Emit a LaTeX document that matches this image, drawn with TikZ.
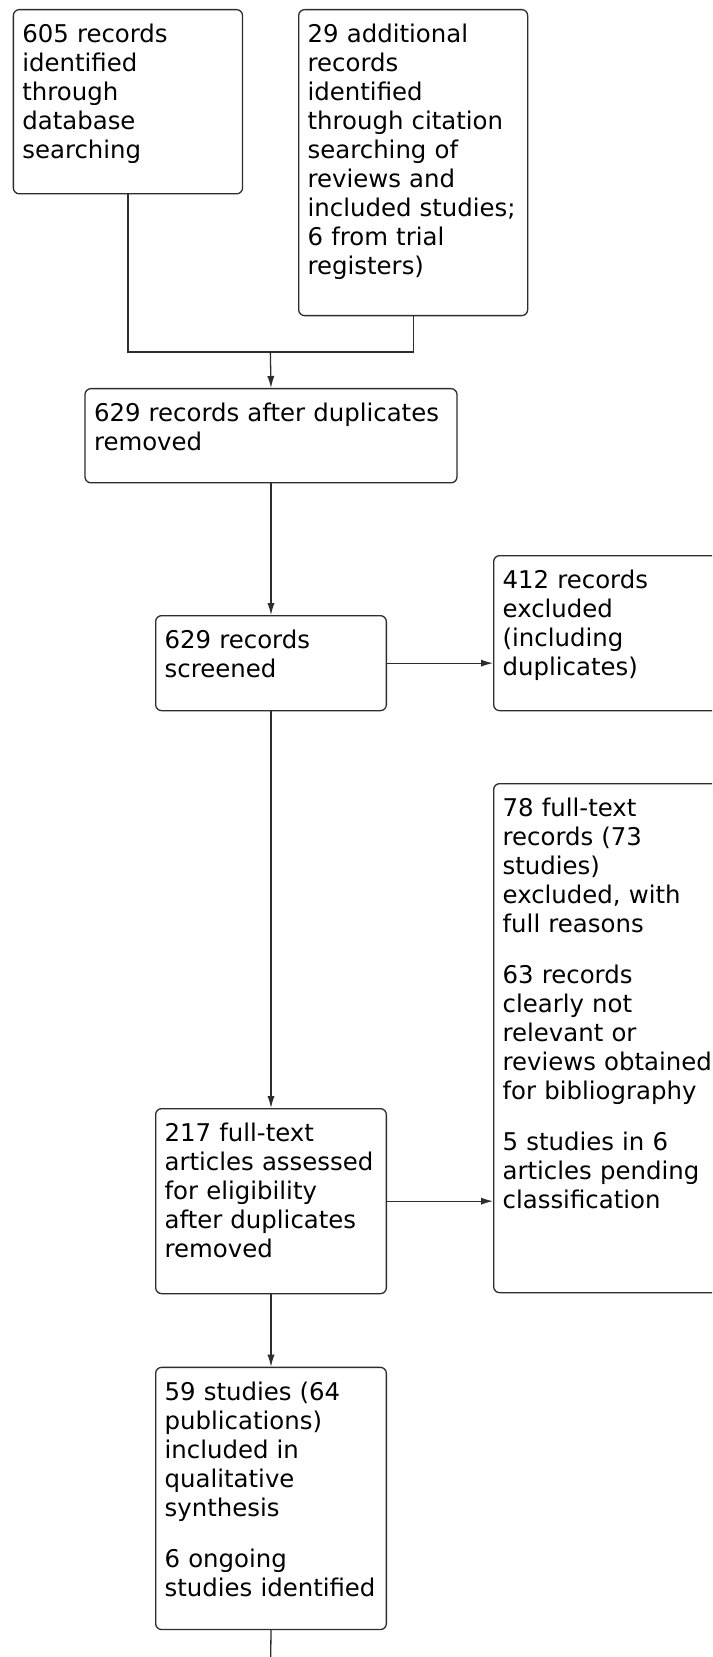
\documentclass[tikz,border=0pt]{standalone}
\usepackage{fontspec}
\setmainfont{DejaVu Sans}
\usetikzlibrary{arrows.meta}
\definecolor{linecolor}{RGB}{45,45,45}

\tikzset{
  recbox/.style={draw=linecolor, line width=0.65pt, rounded corners=3pt,
    anchor=north west, align=left, inner xsep=4.5pt, inner ysep=0pt,
    text height=16.5pt, font=\fontsize{12.2}{14.5}\selectfont},
  sidebox/.style={recbox, text width=125pt},
  link/.style={draw=linecolor, line width=0.65pt},
  arr/.style={link, -{Latex[length=6pt,width=3.6pt]}}
}

\begin{document}
\begin{tikzpicture}[x=0.5pt, y=-0.5pt]
\useasboundingbox (0,0) rectangle (712,1657);
\clip (0,0) rectangle (712,1657);
\fill[white] (0,0) rectangle (712,1657);

% identification
\node[recbox, text width=105.6pt, text depth=75.6pt] (db) at (12.7,9)
  {605 records\\identified\\through\\database\\searching};
\node[recbox, text width=105.5pt, text depth=136.5pt] (cit) at (298,9)
  {29 additional\\records\\identified\\through citation\\searching of\\reviews and\\included studies;\\6 from trial\\registers)};

% screening
\node[recbox, text width=177pt, text depth=30.6pt] (dup) at (84.35,388)
  {629 records after duplicates\\removed};
\node[recbox, text width=106.35pt, text depth=31pt] (scr) at (155,615)
  {629 records\\screened};
\node[sidebox, text depth=61pt] (excl) at (493,555)
  {412 records\\excluded\\(including\\duplicates)};

% eligibility
\node[recbox, text width=106.35pt, text depth=76pt] (full) at (155,1108)
  {217 full-text\\articles assessed\\for eligibility\\after duplicates\\removed};
\node[sidebox, text depth=238pt] (ftex) at (493,783)
  {78 full-text\\records (73\\studies)\\excluded, with\\full reasons\\[11pt]63 records\\clearly not\\relevant or\\reviews obtained\\for bibliography\\[11pt]5 studies in 6\\articles pending\\classification};

% included
\node[recbox, text width=106.35pt, text depth=114.6pt] (incl) at (155,1366.7)
  {59 studies (64\\publications)\\included in\\qualitative\\synthesis\\[11pt]6 ongoing\\studies identified};

% arrows
\coordinate (join) at (270.35,352);
\coordinate (next) at (270.35,1690);
\draw[link] (db.south) |- (join);
\draw[link] (cit.south) |- (join);
\draw[arr] (join) -- (dup.north);
\draw[arr] (dup.south) -- (scr.north);
\draw[arr] (scr.east) -- (scr.east -| excl.west);
\draw[arr] (scr.south) -- (full.north);
\draw[arr] (full.east) -- (full.east -| ftex.west);
\draw[arr] (full.south) -- (incl.north);
\draw[link] (incl.south) -- (next);
\end{tikzpicture}
\end{document}
